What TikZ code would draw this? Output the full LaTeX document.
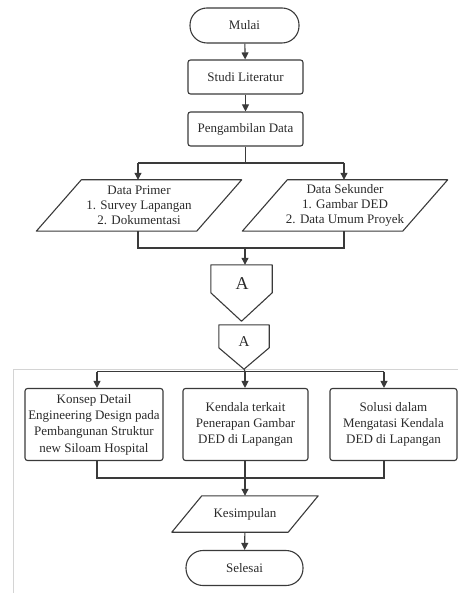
\documentclass[tikz,border=0pt]{standalone}
\usepackage{fontspec}
\setmainfont{Liberation Serif}
\usetikzlibrary{arrows.meta,calc}
\definecolor{ln}{HTML}{3A3A3A}
\definecolor{tx}{HTML}{2A2A2A}
\definecolor{edge}{HTML}{D4D4D4}
\begin{document}
\begin{tikzpicture}[x=1pt,y=-1pt,
  every node/.style={text=tx,font=\fontsize{13}{16}\selectfont,inner sep=0pt,align=center},
  proc/.style={draw=ln,line width=1.1pt,rounded corners=2.5pt,minimum height=34pt},
  term/.style={draw=ln,line width=1.1pt,rounded corners=17pt,minimum height=35pt},
  iobox/.style={minimum height=51pt},
  line/.style={draw=ln,line width=1.1pt},
  arr/.style={line,-{Triangle[width=7pt,length=7pt]}},
  pshape/.style={draw=ln,line width=1.1pt,line join=round}
]
\useasboundingbox (0,0) rectangle (458,593);
% page edge artifacts
\draw[edge,line width=0.8pt] (458,369.5) -- (13,369.5) -- (13,593);

% nodes
\node[term,minimum width=109pt] (mulai) at (244.5,25.5) {Mulai};
\node[proc,minimum width=115pt] (studi) at (245.5,77) {Studi Literatur};
\node[proc,minimum width=115pt] (ambil) at (245.5,129) {Pengambilan Data};

\node[iobox,minimum width=160pt] (primer) at (139,205.5) {Data Primer\\[-1pt]1. Survey Lapangan\\[-1pt]2. Dokumentasi};
\node[iobox,minimum width=160pt] (sekunder) at (345,205.5) {Data Sekunder\\[-1pt]1. Gambar DED\\[-1pt]2. Data Umum Proyek};
\draw[pshape] ($(primer.north west)+(22.5,0)$) -- ($(primer.north east)+(22.5,0)$)
  -- ($(primer.south east)+(-22.5,0)$) -- ($(primer.south west)+(-22.5,0)$) -- cycle;
\draw[pshape] ($(sekunder.north west)+(22.5,0)$) -- ($(sekunder.north east)+(22.5,0)$)
  -- ($(sekunder.south east)+(-22.5,0)$) -- ($(sekunder.south west)+(-22.5,0)$) -- cycle;

% off-page connectors
\node[minimum width=61pt,minimum height=56pt,font=\fontsize{18}{18}\selectfont] (a1) at (241.5,293) {};
\draw[pshape] (a1.north west) -- (a1.north east) -- ($(a1.north east)+(0,28)$) -- (a1.south) -- ($(a1.north west)+(0,28)$) -- cycle;
\node[font=\fontsize{18}{18}\selectfont] (a1t) at (242,284) {A};
\node[minimum width=50pt,minimum height=44pt] (a2) at (244,347) {};
\draw[pshape] (a2.north west) -- (a2.north east) -- ($(a2.north east)+(0,23)$) -- (a2.south) -- ($(a2.north west)+(0,23)$) -- cycle;
\node[font=\fontsize{15}{15}\selectfont] (a2t) at (244,342) {A};

% lower boxes
\node[proc,minimum width=138pt,minimum height=72pt] (b1) at (94,424.5) {Konsep Detail\\[0.3pt]Engineering Design pada\\[0.3pt]Pembangunan Struktur\\[0.3pt]new Siloam Hospital};
\node[proc,minimum width=125pt,minimum height=72pt] (b2) at (245.5,424.5) {Kendala terkait\\[0.3pt]Penerapan Gambar\\[0.3pt]DED di Lapangan};
\node[proc,minimum width=127pt,minimum height=72pt] (b3) at (393.5,424.5) {Solusi dalam\\[0.3pt]Mengatasi Kendala\\[0.3pt]DED di Lapangan};

\node[minimum width=116pt,minimum height=36pt] (kes) at (245,514) {Kesimpulan};
\draw[pshape] ($(kes.north west)+(15,0)$) -- ($(kes.north east)+(15,0)$)
  -- ($(kes.south east)+(-15,0)$) -- ($(kes.south west)+(-15,0)$) -- cycle;
\node[term,minimum width=117pt] (selesai) at (244.5,568) {Selesai};

% coordinates
\coordinate (s1) at (245.5,163);
\coordinate (sl) at (138,163);
\coordinate (sr) at (344,163);
\coordinate (m1) at (245,248);
\coordinate (ml) at (138,248);
\coordinate (mr) at (344,248);
\coordinate (bl) at (97,371.5);
\coordinate (bm) at (245,371.5);
\coordinate (br) at (384,371.5);
\coordinate (jl) at (97,478);
\coordinate (jm) at (245,478);
\coordinate (jr) at (384,478);

% connectors
\draw[arr] (mulai) -- (studi);
\draw[arr] (studi) -- (ambil);
\draw[line] (ambil.south -| s1) -- (s1);
\draw[line] (sl) -- (sr);
\draw[arr] (sl) -- (primer.north -| sl);
\draw[arr] (sr) -- (sekunder.north -| sr);
\draw[line] (primer.south -| ml) -- (ml) -- (mr) -- (sekunder.south -| mr);
\draw[arr] (m1) -- (a1.north -| m1);
\draw[line] (a2.south) -- (bm);
\draw[line] (bl) -- (br);
\draw[arr] (bl) -- (b1.north -| bl);
\draw[arr] (bm) -- (b2.north -| bm);
\draw[arr] (br) -- (b3.north -| br);
\draw[line] (b1.south -| jl) -- (jl) -- (jr) -- (b3.south -| jr);
\draw[arr] (b2.south -| jm) -- (kes.north -| jm);
\draw[arr] (kes) -- (selesai);
\end{tikzpicture}
\end{document}
